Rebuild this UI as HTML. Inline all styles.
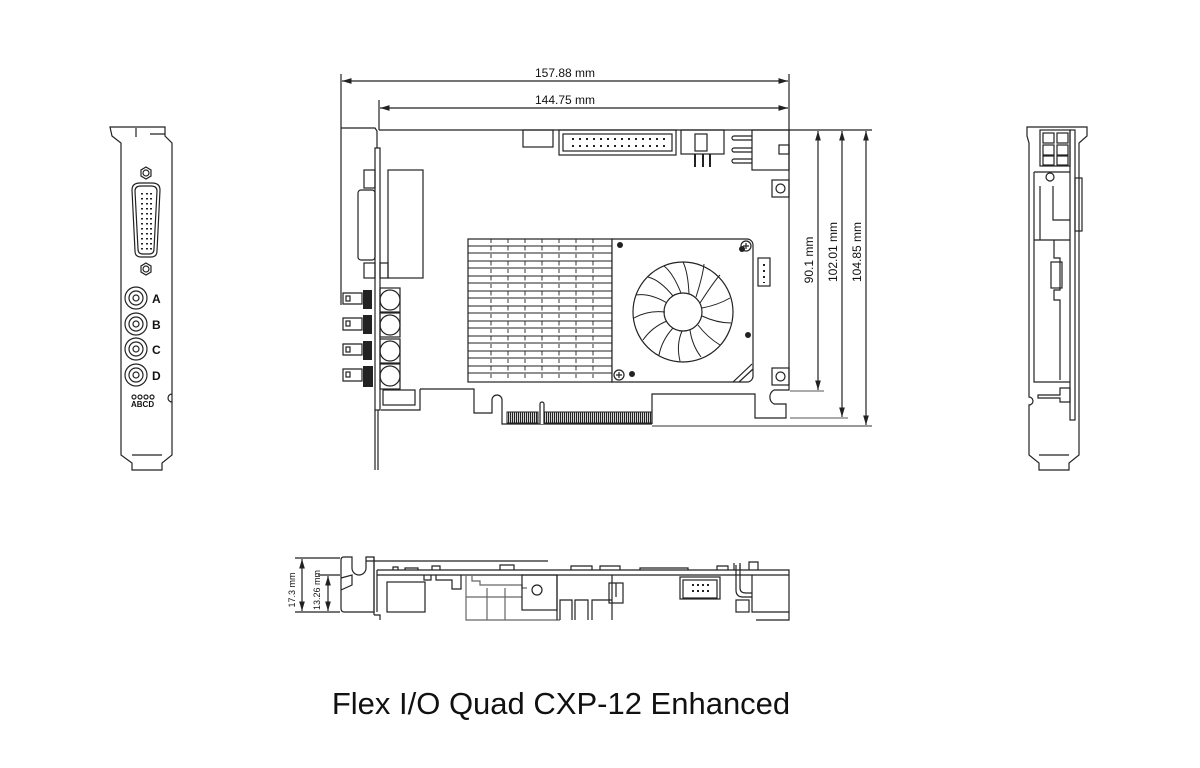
<!DOCTYPE html>
<html><head><meta charset="utf-8"><style>
html,body{margin:0;padding:0;background:#fff;}
svg{display:block}
text{font-family:"Liberation Sans",sans-serif;fill:#111}
</style></head><body>
<svg width="1200" height="768" viewBox="0 0 1200 768" xmlns="http://www.w3.org/2000/svg">
<defs>
<marker id="ar" viewBox="0 0 10 10" refX="10" refY="5" markerWidth="8" markerHeight="8" orient="auto-start-reverse"><path d="M0,2 L10,5 L0,8 z" fill="#222"/></marker>
<pattern id="gf" width="2" height="12" patternUnits="userSpaceOnUse"><rect width="2" height="12" fill="#fff"/><rect width="1.2" height="12" fill="#222"/></pattern>
</defs>
<g fill="none" stroke="#222" stroke-width="1.2">
<line x1="341" y1="74" x2="341" y2="305"/>
<line x1="379" y1="100" x2="379" y2="130"/>
<line x1="789" y1="74" x2="789" y2="130"/>
<line x1="342" y1="81" x2="788" y2="81" marker-start="url(#ar)" marker-end="url(#ar)"/>
<line x1="380" y1="108" x2="788" y2="108" marker-start="url(#ar)" marker-end="url(#ar)"/>
<line x1="789" y1="130" x2="872" y2="130"/>
<line x1="790" y1="391" x2="824" y2="391" stroke="#777"/>
<line x1="790" y1="418" x2="848" y2="418" stroke="#777"/>
<line x1="652" y1="426" x2="872" y2="426" stroke="#777" stroke-width="1.6"/>
<line x1="818" y1="131" x2="818" y2="390" marker-start="url(#ar)" marker-end="url(#ar)"/>
<line x1="842" y1="131" x2="842" y2="417" marker-start="url(#ar)" marker-end="url(#ar)"/>
<line x1="866" y1="131" x2="866" y2="425" marker-start="url(#ar)" marker-end="url(#ar)"/>

<path d="M379,130 H789 V390 H774 a8,8 0 0 0 0,14 H786 V418 H755 V394 H652 V424 H652"/>
<path d="M420,389 H474 V413 H492 V400 a5,5 0 0 1 10,0 V424 H652"/>
<path d="M381,410 H420 V389"/>
<rect x="507" y="412" width="31" height="11" fill="url(#gf)" stroke-width="1"/>
<rect x="543" y="412" width="109" height="11" fill="url(#gf)" stroke-width="1"/>
<path d="M540,424 V404 a2,2 0 0 1 4,0 V424" fill="#fff"/>

<rect x="523" y="130" width="30" height="17"/>
<rect x="559" y="130" width="117" height="25"/>
<rect x="563" y="134" width="109" height="17"/>
<g stroke-width="2" stroke-dasharray="2,5">
<line x1="572" y1="139" x2="668" y2="139"/><line x1="572" y1="146" x2="668" y2="146"/>
</g>
<rect x="681" y="130" width="43" height="24"/>
<rect x="695" y="134" width="12" height="17"/>
<g stroke-width="2"><line x1="695" y1="154" x2="695" y2="167"/><line x1="703" y1="154" x2="703" y2="167"/><line x1="710" y1="154" x2="710" y2="167"/></g>
<rect x="752" y="130" width="37" height="40"/>
<rect x="779" y="145" width="10" height="9"/>
<g><path d="M752,136 H734 a2,2 0 0 0 0,4 H752"/><path d="M752,148 H734 a2,2 0 0 0 0,4 H752"/><path d="M752,159 H734 a2,2 0 0 0 0,4 H752"/></g>
<rect x="772" y="180" width="17" height="17"/><circle cx="780.5" cy="188.5" r="4.5"/>
<rect x="772" y="368" width="17" height="17"/><circle cx="780.5" cy="376.5" r="4.5"/>

<rect x="468" y="239" width="144" height="143"/>
<g stroke-width="0.9">
<path d="M468,246 H612 M468,253 H612 M468,261 H612 M468,268 H612 M468,276 H612 M468,283 H612 M468,291 H612 M468,298 H612 M468,306 H612 M468,313 H612 M468,321 H612 M468,328 H612 M468,336 H612 M468,343 H612 M468,351 H612 M468,358 H612 M468,366 H612 M468,373 H612"/>
<path d="M491,239 V382 M508,239 V382 M525,239 V382 M542,239 V382 M559,239 V382 M576,239 V382 M593,239 V382" stroke-dasharray="4,3.5"/>
</g>
<path d="M612,239 H747 a6,6 0 0 1 6,6 V376 a6,6 0 0 1 -6,6 H612 z" fill="#fff"/>
<circle cx="683" cy="312" r="50"/>
<circle cx="683" cy="312" r="19"/>
<g stroke-width="1">
<path d="M700,303 Q715,280 720,275"/><path d="M696,297 Q703,275 704,264"/><path d="M689,294 Q688,272 683,262"/><path d="M681,293 Q673,273 664,266"/><path d="M673,296 Q660,280 648,277"/><path d="M667,303 Q650,293 636,295"/><path d="M665,312 Q648,310 634,318"/><path d="M667,321 Q652,327 643,340"/><path d="M673,328 Q662,340 659,355"/><path d="M682,331 Q676,345 680,361"/><path d="M690,330 Q692,345 701,357"/><path d="M698,325 Q707,337 720,345"/><path d="M702,316 Q717,323 731,323"/><path d="M702,308 Q718,305 730,298"/>
</g>
<g fill="#222" stroke="none"><circle cx="620" cy="245" r="3"/><circle cx="742" cy="249" r="3"/><circle cx="748" cy="335" r="3"/><circle cx="632" cy="374" r="3"/></g>
<circle cx="746" cy="246" r="5"/><circle cx="619" cy="375" r="5"/>
<path d="M743,246 h6 M746,243 v6 M616,375 h6 M619,372 v6"/>
<path d="M733,382 L752,364 M739,382 L753,369"/>
<rect x="758" y="258" width="12" height="28"/>
<g stroke-width="2" stroke-dasharray="2,4"><line x1="764" y1="264" x2="764" y2="283"/></g>

<path d="M341,128 H375 L377,131 V148"/>
<rect x="375" y="148" width="5" height="262"/>
<path d="M375,410 V470 M378,410 V470"/>
<rect x="388" y="170" width="35" height="108"/>
<rect x="358" y="190" width="17" height="70" rx="3"/>
<rect x="364" y="170" width="11" height="18"/>
<rect x="364" y="263" width="11" height="15"/>
<rect x="380" y="263" width="8" height="15"/>
<g>
<rect x="380" y="288" width="20" height="24"/><circle cx="390" cy="300" r="10"/>
<rect x="380" y="313" width="20" height="24"/><circle cx="390" cy="325" r="10"/>
<rect x="380" y="339" width="20" height="24"/><circle cx="390" cy="351" r="10"/>
<rect x="380" y="364" width="20" height="25"/><circle cx="390" cy="376" r="10"/>
<path d="M343,293 H362 V304 H343 z M343,318 H362 V330 H343 z M343,344 H362 V355 H343 z M343,369 H362 V381 H343 z"/>
<rect x="346" y="296" width="4" height="5"/><rect x="346" y="321" width="4" height="5"/><rect x="346" y="347" width="4" height="5"/><rect x="346" y="372" width="4" height="5"/>
</g>
<g fill="#222" stroke="none">
<rect x="363" y="290" width="9" height="19"/><rect x="363" y="315" width="9" height="19"/><rect x="363" y="341" width="9" height="19"/><rect x="363" y="366" width="10" height="21"/>
</g>
<rect x="383" y="390" width="32" height="15"/>

<path d="M110,127 H165 V136 L172,143 V455 L162,463 V470 H132 V463 L121,455 V143 L112,136 z"/>
<path d="M136,137 V128 M150,134 H165"/>
<path d="M172,394 a4,4 0 0 0 0,8"/>
<path d="M132,455 H162"/>
<path d="M146,167 l5,3 v6 l-5,3 l-5,-3 v-6 z"/><circle cx="146" cy="173" r="3"/>
<path d="M146,263 l5,3 v6 l-5,3 l-5,-3 v-6 z"/><circle cx="146" cy="269" r="3"/>
<path d="M132,190 Q132,183 140,183 H152 Q160,183 160,190 L157,251 Q157,257 151,257 H141 Q135,257 135,251 z"/>
<path d="M135,191 Q135,186 141,186 H151 Q157,186 157,191 L154,249 Q154,254 149,254 H143 Q138,254 138,249 z"/>
<g stroke-width="2" stroke-dasharray="1.5,3.5"><line x1="142" y1="193" x2="142" y2="250"/><line x1="147" y1="193" x2="147" y2="250"/><line x1="151" y1="193" x2="151" y2="250"/></g>
<g>
<circle cx="136" cy="298" r="11"/><circle cx="136" cy="298" r="7"/><circle cx="136" cy="298" r="3"/>
<circle cx="136" cy="324" r="11"/><circle cx="136" cy="324" r="7"/><circle cx="136" cy="324" r="3"/>
<circle cx="136" cy="349" r="11"/><circle cx="136" cy="349" r="7"/><circle cx="136" cy="349" r="3"/>
<circle cx="136" cy="375" r="11"/><circle cx="136" cy="375" r="7"/><circle cx="136" cy="375" r="3"/>
<circle cx="134" cy="397" r="2"/><circle cx="140" cy="397" r="2"/><circle cx="146" cy="397" r="2"/><circle cx="152" cy="397" r="2"/>
</g>

<path d="M1027,127 H1087 V136 L1079,143 V455 L1069,463 V470 H1039 V463 L1029,455 V405 a4,4 0 0 0 0,-8 V143 L1027,136 z"/>
<path d="M1039,455 H1069"/>
<rect x="1040" y="130" width="30" height="36"/>
<rect x="1043" y="133" width="11" height="10"/><rect x="1057" y="133" width="11" height="10"/>
<rect x="1043" y="145" width="11" height="10"/><rect x="1057" y="145" width="11" height="10"/>
<rect x="1043" y="156" width="11" height="9"/><rect x="1057" y="156" width="11" height="9"/>
<rect x="1070" y="130" width="5" height="290"/>
<rect x="1075" y="178" width="7" height="53"/>
<path d="M1034,172 H1070 M1034,172 V382 H1070 M1040,186 V240 H1070 M1053,186 V220 H1070 M1034,240 H1070 M1054,240 V258 H1060 V290 H1054 V300 H1060 V380"/>
<circle cx="1050" cy="177" r="4"/>
<rect x="1051" y="262" width="11" height="26"/>
<path d="M1038,395 H1060 V388 H1070 V402 H1060 V398 H1038 z"/>

<line x1="295" y1="558" x2="340" y2="558"/>
<line x1="318" y1="575" x2="340" y2="575"/>
<line x1="295" y1="612" x2="340" y2="612"/>
<line x1="302" y1="559" x2="302" y2="611" marker-start="url(#ar)" marker-end="url(#ar)"/>
<line x1="328" y1="576" x2="328" y2="611" marker-start="url(#ar)" marker-end="url(#ar)"/>
<path d="M341,560 Q341,557 344,557 H352 V568 a7,7 0 0 0 14,0 V557 H374 V612 H344 Q341,612 341,608 z"/>
<path d="M341,578 L352,575 V585 L341,590"/>
<path d="M366,561 H548"/>
<path d="M377,570 H789 V620 H756"/>
<path d="M377,575 H789"/>
<path d="M374,557 V615 M377,570 V612 M374,615 H380 V620"/>
<rect x="387" y="582" width="38" height="30"/>
<path d="M393,570 V567 H398 V570 M405,570 V568 H418 V570 M432,570 V566 H440 V570 M500,570 V565 H514 V570 M571,570 V566 H592 V570 M600,570 V566 H620 V570 M640,570 V568 H688 V570 M717,570 V566 H728 V570 M734,570 V563 M740,570 V563 M749,570 V562 H758 V570"/>
<path d="M424,575 V580 H431 V575 M436,575 V580 H452 V589 H461 V575"/>
<path d="M466,575 V620 H560 M472,575 V581 H480 V585 H522 V588 H527 M487,588 V620 M505,588 V620 M466,597 H522" stroke="#666"/>
<rect x="522" y="575" width="35" height="35"/>
<circle cx="537" cy="590" r="5"/>
<path d="M557,575 V620 M560,620 V600 H572 V620 M575,620 V600 H588 V620 M592,620 V600 H612 V620 M612,575 V600"/>
<rect x="609" y="583" width="14" height="20"/><line x1="616" y1="583" x2="616" y2="597"/>
<rect x="680" y="577" width="40" height="22"/><rect x="683" y="580" width="34" height="18"/>
<g stroke-width="2" stroke-dasharray="2,3"><line x1="692" y1="585" x2="710" y2="585"/><line x1="692" y1="591" x2="710" y2="591"/></g>
<path d="M736,565 V590 Q736,597 743,597 H752 M740,565 V588 Q740,593 746,593 H752"/>
<rect x="736" y="600" width="13" height="12"/>
<path d="M752,575 V612 H789"/>
</g>

<g font-size="12" text-anchor="middle">
<text x="565" y="77">157.88 mm</text>
<text x="565" y="104">144.75 mm</text>
<text transform="translate(813,260) rotate(-90)">90.1 mm</text>
<text transform="translate(837,252) rotate(-90)">102.01 mm</text>
<text transform="translate(861,252) rotate(-90)">104.85 mm</text>
</g>
<g font-size="9" text-anchor="middle">
<text transform="translate(295,590) rotate(-90)">17.3 mm</text>
<text transform="translate(320,590) rotate(-90)">13.26 mm</text>
</g>
<g font-size="12" font-weight="bold">
<text x="152" y="303">A</text><text x="152" y="329">B</text><text x="152" y="354">C</text><text x="152" y="380">D</text>
</g>
<text x="131" y="407" font-size="8" font-weight="bold">ABCD</text>
<text x="561" y="714" font-size="31" text-anchor="middle" fill="#222">Flex I/O Quad CXP-12 Enhanced</text>
</svg>
</body></html>
